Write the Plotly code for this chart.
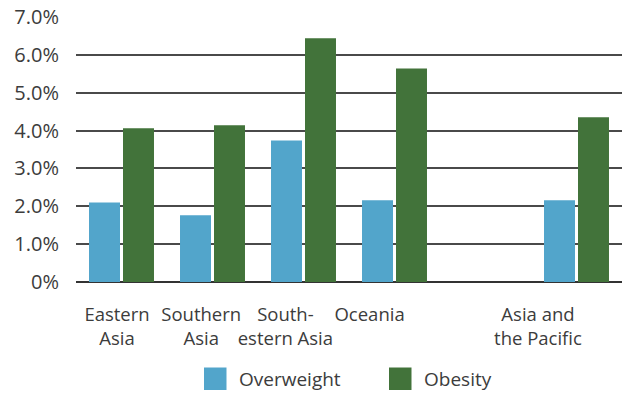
import plotly.graph_objects as go

# Prevalence by subregion (percent of population)
categories = ["Eastern<br>Asia", "Southern<br>Asia", "South-<br>estern Asia", "Oceania", "", "Asia and<br>the Pacific"]
overweight = [2.10, 1.76, 3.74, 2.16, None, 2.16]
obesity = [4.06, 4.14, 6.44, 5.64, None, 4.35]
y_ticks = [0, 1, 2, 3, 4, 5, 6, 7]
y_tick_labels = ["0%", "1.0%", "2.0%", "3.0%", "4.0%", "5.0%", "6.0%", "7.0%"]
series_names = ["Overweight", "Obesity"]
series_colors = ["#52A5CB", "#42733A"]

W, H = 622, 394
M_L, M_R, M_T, M_B = 76, 0, 17, 112
FONT = "Open Sans"
TEXT_COLOR = "#3c3c3c"

positions = list(range(len(categories)))

fig = go.Figure()
for name, vals, color in zip(series_names, [overweight, obesity], series_colors):
    fig.add_trace(go.Bar(
        x=positions, y=vals, name=name, marker_color=color,
        marker_line_width=0, showlegend=False,
    ))

# invisible helper trace so the label axis is drawn
fig.add_trace(go.Scatter(
    x=[positions[0], positions[-1]], y=[0, 0], xaxis="x2", mode="markers",
    marker=dict(opacity=0), hoverinfo="skip", showlegend=False,
))

fig.update_layout(
    width=W, height=H,
    margin=dict(l=M_L, r=M_R, t=M_T, b=M_B),
    paper_bgcolor="white", plot_bgcolor="white",
    barmode="group", bargap=0.253, bargroupgap=0.088,
    font=dict(family=FONT, size=19, color=TEXT_COLOR),
    xaxis=dict(
        range=[-0.5, len(categories) - 0.5], showticklabels=False,
        showgrid=False, zeroline=False, showline=False, fixedrange=True,
    ),
    xaxis2=dict(
        overlaying="x", side="bottom", anchor="y",
        range=[-0.487, 5.998], tickmode="array",
        tickvals=positions, ticktext=categories, tickangle=0,
        showgrid=False, zeroline=False, showline=False, ticks="",
        tickfont=dict(family=FONT, size=18.5, color=TEXT_COLOR),
        ticklabelstandoff=19,
    ),
    yaxis=dict(
        range=[0, 7.0001], tickmode="array", tickvals=y_ticks, ticktext=y_tick_labels,
        showgrid=True, gridcolor="#4a4a4a", gridwidth=1.5,
        zeroline=True, zerolinecolor="#333333", zerolinewidth=1.5,
        showline=False, ticks="", ticklabelstandoff=16,
        tickfont=dict(family=FONT, size=20, color=TEXT_COLOR),
    ),
)

# Legend drawn as swatches plus labels beneath the plot
plot_w = W - M_L - M_R
plot_h = H - M_T - M_B

def px_x(px):
    return (px - M_L) / plot_w

def px_y(py):
    return (H - M_B - py) / plot_h

swatch = 22.5
legend_items = [(series_names[0], series_colors[0], 204), (series_names[1], series_colors[1], 389)]
for name, color, left in legend_items:
    fig.add_shape(
        type="rect", xref="paper", yref="paper",
        x0=px_x(left), x1=px_x(left + swatch),
        y0=px_y(367.5 + swatch), y1=px_y(367.5),
        fillcolor=color, line_width=0,
    )
    fig.add_annotation(
        xref="paper", yref="paper", x=px_x(left + swatch + 10), y=px_y(378.5),
        text=name, showarrow=False, xanchor="left", yanchor="middle",
        font=dict(family=FONT, size=19, color=TEXT_COLOR),
    )

fig.write_html("out.html")
